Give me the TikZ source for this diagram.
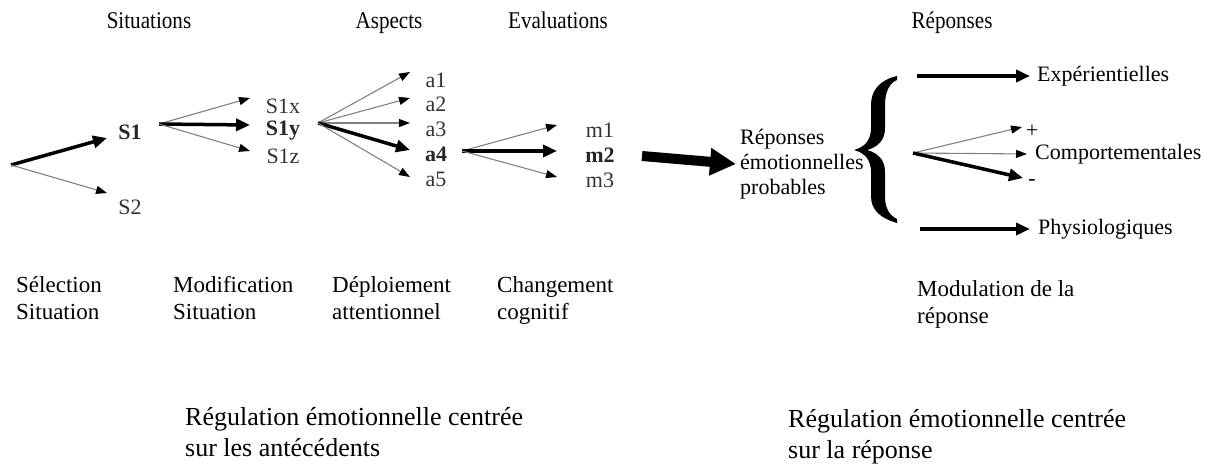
\documentclass[tikz,border=0pt]{standalone}
\usepackage{fontspec}
\setmainfont{Liberation Serif}
\newfontfamily\condfont[FakeStretch=0.88]{Liberation Serif}
\usetikzlibrary{arrows.meta}
\begin{document}
\begin{tikzpicture}[x=1pt,y=-1pt,
  lbl/.style={font=\fontsize{22}{26}\selectfont, text=black!80, inner sep=0pt},
  lblb/.style={font=\fontsize{22}{26}\selectfont\bfseries, text=black!85, inner sep=0pt},
  head/.style={font=\condfont\fontsize{24}{28}\selectfont, inner sep=0pt, anchor=base},
  txt/.style={font=\fontsize{22}{25}\selectfont, align=left, inner sep=0pt, anchor=west},
  txtb/.style={font=\fontsize{23}{27}\selectfont, align=left, inner sep=0pt, anchor=base west},
  big/.style={font=\fontsize{26}{31}\selectfont, align=left, inner sep=0pt, anchor=base west},
  tarr/.style={draw=black!50, line width=1.1pt, -{Triangle[length=11pt,width=8pt,color=black]}},
  karr/.style={draw=black, line width=3.5pt, -{Triangle[length=14pt,width=12pt]}},
  barr/.style={draw=black, line width=10pt, -{Triangle[length=26pt,width=26pt]}},
]
\useasboundingbox (0,0) rectangle (1209,465);
% headers
\node[head] (hsit) at (149,29) {Situations};
\node[head] (hasp) at (389,29) {Aspects};
\node[head] (heva) at (558,29) {Evaluations};
\node[head] (hrep) at (952,29) {Réponses};
% situation selection
\coordinate (o0) at (11,165);
\coordinate (tS1) at (107,138);
\coordinate (tS2) at (107,193);
\node[lblb] (S1) at (130,132) {S1};
\node[lbl] (S2) at (130,207) {S2};
\draw[karr] (o0) -- (tS1);
\draw[tarr] (o0) -- (tS2);
% situation modification
\coordinate (o1) at (159,124);
\coordinate (tS1x) at (250,98);
\coordinate (tS1y) at (250,125);
\coordinate (tS1z) at (250,151);
\node[lbl] (S1x) at (283,106) {S1x};
\node[lblb] (S1y) at (283,131) {S1y};
\node[lbl] (S1z) at (283,156) {S1z};
\draw[tarr] (o1) -- (tS1x);
\draw[karr] (o1) -- (tS1y);
\draw[tarr] (o1) -- (tS1z);
% aspects
\coordinate (o2) at (318,123);
\coordinate (ta1) at (410,72);
\coordinate (ta2) at (410,98);
\coordinate (ta3) at (410,123);
\coordinate (ta4) at (410,150);
\coordinate (ta5) at (410,177);
\node[lbl] (a1) at (436,80) {a1};
\node[lbl] (a2) at (436,104) {a2};
\node[lbl] (a3) at (436,129) {a3};
\node[lblb] (a4) at (436,154) {a4};
\node[lbl] (a5) at (436,179) {a5};
\draw[tarr] (o2) -- (ta1);
\draw[tarr] (o2) -- (ta2);
\draw[tarr] (o2) -- (ta3);
\draw[karr] (o2) -- (ta4);
\draw[tarr] (o2) -- (ta5);
% evaluations
\coordinate (o3) at (462,151);
\coordinate (tm1) at (557,125);
\coordinate (tm2) at (557,151);
\coordinate (tm3) at (557,177);
\node[lbl] (m1) at (600,130) {m1};
\node[lblb] (m2) at (600,155) {m2};
\node[lbl] (m3) at (600,180) {m3};
\draw[tarr] (o3) -- (tm1);
\draw[karr] (o3) -- (tm2);
\draw[tarr] (o3) -- (tm3);
% big arrow
\coordinate (bo) at (642,156);
\node[txt] (rep) at (740,164) {Réponses\\émotionnelles\\probables};
\draw[barr] (bo) -- ([xshift=-4pt]rep.west);
% brace
\fill[black] (897,76) .. controls (880,80) and (871,90) .. (871,105) -- (871,128)
  .. controls (871,140) and (865,147) .. (854,150)
  .. controls (865,153) and (871,160) .. (871,172) -- (871,196)
  .. controls (871,210) and (880,218) .. (897,223) -- (897,219)
  .. controls (889,215) and (885,208) .. (885,196) -- (885,172)
  .. controls (885,160) and (878,153) .. (867,150)
  .. controls (878,147) and (885,140) .. (885,128) -- (885,105)
  .. controls (885,93) and (889,83) .. (897,80) -- cycle;
% responses
\coordinate (oe) at (917,76);
\node[txt] (exp) at (1037,76) {Expérientielles};
\draw[karr] (oe) -- ([xshift=-7pt]exp.west);
\coordinate (oc) at (913,153);
\coordinate (tcp) at (1022,127);
\coordinate (tcm) at (1023,178);
\node[txt] (com) at (1035,154) {Comportementales};
\node[lbl, text=black] (plus) at (1032,131) {+};
\node[lbl, text=black] (minus) at (1032,182) {-};
\draw[tarr] (oc) -- (tcp);
\draw[tarr] (oc) -- ([xshift=-8pt]com.west);
\draw[karr] (oc) -- (tcm);
\coordinate (op) at (920,229);
\node[txt] (phy) at (1038,229) {Physiologiques};
\draw[karr] (op) -- ([xshift=-8pt]phy.west);
% bottom labels (anchor = baseline of last line)
\node[txtb] (sel) at (16,319) {Sélection\\Situation};
\node[txtb] (mod) at (173,319) {Modification\\Situation};
\node[txtb] (dep) at (332,319) {Déploiement\\attentionnel};
\node[txtb] (chg) at (497,319) {Changement\\cognitif};
\node[txtb] (mdl) at (917,323) {Modulation de la\\réponse};
% bottom titles
\node[big] (ra) at (185,456) {Régulation émotionnelle centrée\\sur les antécédents};
\node[big] (rr) at (788,458) {Régulation émotionnelle centrée\\sur la réponse};
\end{tikzpicture}
\end{document}
